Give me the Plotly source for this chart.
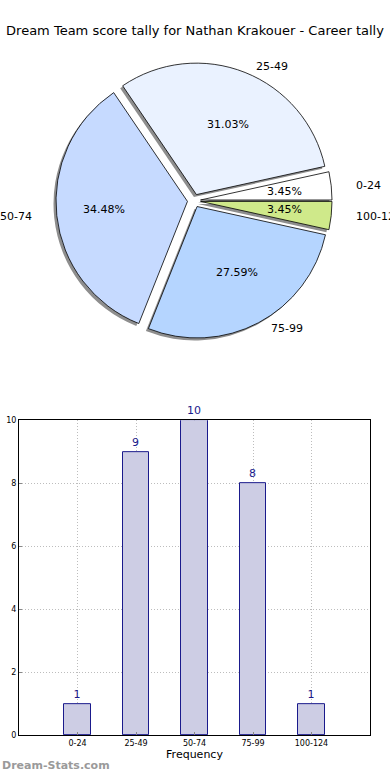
import math
import plotly.graph_objects as go

# ---------------- data ----------------
categories = ["0-24", "25-49", "50-74", "75-99", "100-124"]
counts = [1, 9, 10, 8, 1]
slice_colors = ["#ffffff", "#eaf2ff", "#c6daff", "#b5d5ff", "#cfe98a"]
y_ticks = [0, 2, 4, 6, 8, 10]
title_text = "Dream Team score tally for Nathan Krakouer - Career tally"

# ---------------- layout constants (pixels) ----------------
W, H = 390, 780
FONT = "DejaVu Sans"
PIE_CX, PIE_CY = 194, 199       # pie centre
PIE_R = 133                     # drawn radius
TXT_RX, TXT_RY = 140, 127       # radii used to place the text
PULL = 0.05
SHADOW = 2.5


def px(x):
    return x / W


def py(y):
    return 1 - y / H


def pie_domain(cx, cy):
    half = PIE_R * (1 + PULL)
    return dict(x=[px(cx - half), px(cx + half)], y=[py(cy + half), py(cy - half)])


total = sum(counts)
# first slice starts at 3 o'clock and runs counter-clockwise
# (plotly's rotation marks where the first slice ends in ccw mode)
rotation = 90 - 360 * counts[0] / total

fig = go.Figure()

# shadow pie
fig.add_trace(go.Pie(
    labels=categories, values=counts, sort=False, direction="counterclockwise",
    rotation=rotation, pull=[PULL] * len(counts), textinfo="none", hoverinfo="skip",
    marker=dict(colors=["#8e8e8e"] * len(counts), line=dict(width=0)),
    domain=pie_domain(PIE_CX - SHADOW, PIE_CY + SHADOW), showlegend=False,
))
# main pie
fig.add_trace(go.Pie(
    labels=categories, values=counts, sort=False, direction="counterclockwise",
    rotation=rotation, pull=[PULL] * len(counts), textinfo="none",
    marker=dict(colors=slice_colors, line=dict(color="#000000", width=0.8)),
    domain=pie_domain(PIE_CX, PIE_CY), showlegend=False,
))

# pie text (labels outside, percentages inside), computed from the values
annotations = []
start = 0.0
for cat, v in zip(categories, counts):
    frac = v / total
    mid = (start + frac / 2) * 2 * math.pi
    start += frac
    c, s = math.cos(mid), math.sin(mid)
    lx = PIE_CX + (PULL + 1.1) * TXT_RX * c
    ly = PIE_CY - (PULL + 1.1) * TXT_RY * s
    annotations.append(dict(
        x=px(lx), y=py(ly), xref="paper", yref="paper", text=cat, showarrow=False,
        xanchor="left" if c > 0 else "right", yanchor="middle",
        font=dict(family=FONT, size=11, color="#000000"),
    ))
    tx = PIE_CX + (PULL + 0.6) * TXT_RX * c
    ty = PIE_CY - (PULL + 0.6) * TXT_RY * s
    annotations.append(dict(
        x=px(tx), y=py(ty), xref="paper", yref="paper", text=f"{frac*100:.2f}%",
        showarrow=False, xanchor="center", yanchor="middle",
        font=dict(family=FONT, size=11, color="#000000"),
    ))

# ---------------- bar chart ----------------
fig.add_trace(go.Bar(
    x=categories, y=counts, width=0.45,
    marker=dict(color="#cdcde4", line=dict(color="#1a1a8c", width=1)),
    text=counts, textposition="outside", cliponaxis=False,
    textfont=dict(family=FONT, size=11, color="#1a1a8c"),
    showlegend=False, xaxis="x", yaxis="y",
))

BAR_L, BAR_R, BAR_T, BAR_B = 19, 370, 421, 740

annotations.append(dict(
    x=px(-4), y=py((BAR_T + BAR_B) / 2 - 5), xref="paper", yref="paper",
    text="Number of Games", textangle=-90, showarrow=False,
    xanchor="center", yanchor="middle", font=dict(family=FONT, size=11, color="#000000"),
))
annotations.append(dict(
    x=0, y=py(770), xref="paper", yref="paper", text="<b>Dream-Stats.com</b>",
    showarrow=False, xanchor="left", yanchor="middle",
    font=dict(family=FONT, size=11, color="#9a9a9a"),
))

GRID = dict(showgrid=True, gridcolor="#bdbdbd", griddash="1px,2px", gridwidth=1)

fig.update_layout(
    width=W, height=H,
    margin=dict(l=0, r=0, t=0, b=0),
    paper_bgcolor="#ffffff", plot_bgcolor="#ffffff",
    font=dict(family=FONT, color="#000000"),
    title=dict(text=title_text, x=0.5, xanchor="center", y=py(30), yanchor="middle",
               xref="paper", yref="container",
               font=dict(family=FONT, size=13, color="#000000")),
    xaxis=dict(
        domain=[px(BAR_L), px(BAR_R)], anchor="y", type="category", range=[-1, 5],
        showline=True, linecolor="#000000", linewidth=1, mirror=True,
        ticks="inside", ticklen=3, tickcolor="#888888",
        tickfont=dict(family=FONT, size=8), zeroline=False,
        title=dict(text="Frequency", font=dict(family=FONT, size=11), standoff=2),
        **GRID,
    ),
    yaxis=dict(
        domain=[py(BAR_B), py(BAR_T)], anchor="x", range=[0, 10],
        tickvals=y_ticks, ticktext=[str(t) for t in y_ticks],
        showline=True, linecolor="#000000", linewidth=1, mirror=True,
        ticks="inside", ticklen=3, tickcolor="#888888",
        tickfont=dict(family=FONT, size=8), zeroline=False,
        **GRID,
    ),
    annotations=annotations,
    bargap=0,
)

fig.write_html("out.html", config={"displayModeBar": False},
               post_script="document.body.style.margin='0';document.body.style.padding='0';")
